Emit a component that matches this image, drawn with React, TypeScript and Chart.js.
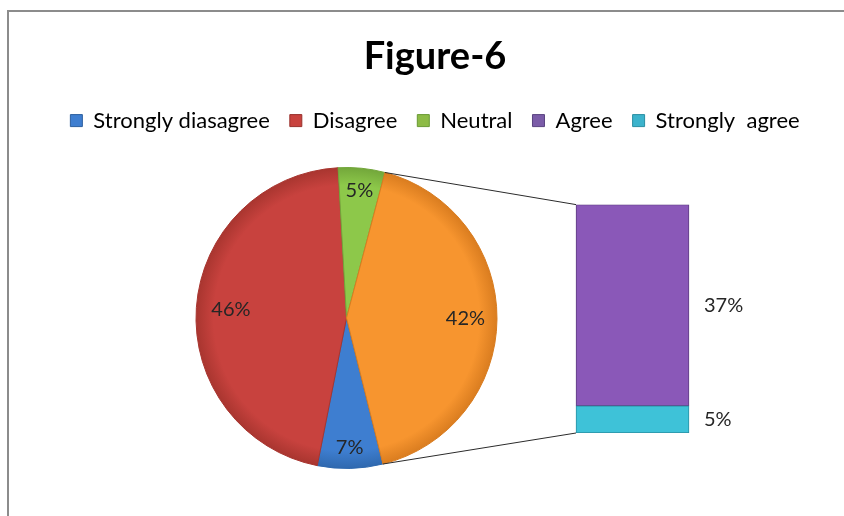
import React, { useEffect, useRef } from 'react';
import { Chart, registerables } from 'chart.js';

Chart.register(...registerables);

// ---- data ----
const TITLE = 'Figure-6';
const PIE_LABELS = ['Strongly diasagree', 'Disagree', 'Neutral', 'Other'];
const PIE_VALUES = [7, 46, 5, 42];
const BAR_LABELS = ['Strongly  agree', 'Agree'];
const BAR_VALUES = [5, 37];
const LEGEND_LABELS = ['Strongly diasagree', 'Disagree', 'Neutral', 'Agree', 'Strongly  agree'];

// ---- styles ----
const PIE_COLORS = ['#3E7ED0', '#C8423E', '#8DC84A', '#F7952F'];
const PIE_DARK = ['#2F68AE', '#A8352F', '#72A63A', '#D97C1F'];
const BAR_COLORS = ['#3EC2D8', '#8A58B8'];
const BAR_BORDER = ['#2A8FA3', '#5E3C80'];
const LEGEND_COLORS = ['#3E7ED0', '#C8423E', '#8DBB46', '#7B5CA8', '#3CB3CC'];
const LEGEND_BORDER = ['#2B5E9E', '#99302C', '#6A9A34', '#5A4380', '#2A8FA3'];
const LABEL_RADIUS = [0.86, 0.77, 0.85, 0.79];
const FONT = 'Lato, "Open Sans", sans-serif';
const W = 844;
const H = 516;

export default function App() {
  const pieRef = useRef<HTMLCanvasElement | null>(null);
  const barRef = useRef<HTMLCanvasElement | null>(null);

  useEffect(() => {
    if (!pieRef.current || !barRef.current) return;

    const framePlugin = {
      id: 'frame',
      beforeDraw(chart: any) {
        const ctx = chart.ctx;
        ctx.save();
        ctx.fillStyle = '#ffffff';
        ctx.fillRect(0, 0, W, H);
        ctx.fillStyle = '#8c8c8c';
        ctx.fillRect(7, 10, W - 7, 2);
        ctx.fillRect(7, 10, 2, H - 10);
        ctx.restore();
      },
    };

    const pieLabelPlugin = {
      id: 'pieLabels',
      afterDatasetsDraw(chart: any) {
        const ctx = chart.ctx;
        const meta = chart.getDatasetMeta(0);
        ctx.save();
        ctx.font = `20px ${FONT}`;
        ctx.fillStyle = '#262626';
        ctx.textAlign = 'center';
        ctx.textBaseline = 'middle';
        meta.data.forEach((arc: any, i: number) => {
          const p = arc.getProps(['x', 'y', 'startAngle', 'endAngle', 'outerRadius'], true);
          const mid = (p.startAngle + p.endAngle) / 2;
          const rr = p.outerRadius * LABEL_RADIUS[i];
          ctx.fillText(`${PIE_VALUES[i]}%`, p.x + rr * Math.cos(mid), p.y + rr * Math.sin(mid));
        });
        ctx.restore();
      },
    };

    const pie = new Chart(pieRef.current, {
      type: 'pie',
      data: {
        labels: PIE_LABELS,
        datasets: [
          {
            data: PIE_VALUES,
            backgroundColor: (c: any) => {
              const i = c.dataIndex ?? 0;
              const a = c.chart.chartArea;
              if (!a) return PIE_COLORS[i];
              const cx = (a.left + a.right) / 2;
              const cy = (a.top + a.bottom) / 2;
              const r = Math.min(a.right - a.left, a.bottom - a.top) / 2;
              const g = c.chart.ctx.createRadialGradient(cx, cy, 0, cx, cy, r);
              g.addColorStop(0, PIE_COLORS[i]);
              g.addColorStop(0.88, PIE_COLORS[i]);
              g.addColorStop(1, PIE_DARK[i]);
              return g;
            },
            borderColor: PIE_DARK,
            borderWidth: 1,
          },
        ],
      },
      options: {
        responsive: false,
        animation: false,
        rotation: 166,
        layout: { padding: { left: 195, right: 346, top: 167, bottom: 47 } },
        plugins: {
          legend: { display: false },
          title: { display: false },
          tooltip: { enabled: false },
        },
      },
      plugins: [framePlugin, pieLabelPlugin],
    });

    const total = BAR_VALUES.reduce((s, v) => s + v, 0);

    const connectorPlugin = {
      id: 'connectors',
      afterDatasetsDraw(chart: any) {
        const ctx = chart.ctx;
        const arc = pie.getDatasetMeta(0).data[PIE_VALUES.length - 1] as any;
        const p = arc.getProps(['x', 'y', 'startAngle', 'endAngle', 'outerRadius'], true);
        const top = chart.getDatasetMeta(BAR_VALUES.length - 1).data[0] as any;
        const bot = chart.getDatasetMeta(0).data[0] as any;
        const tp = top.getProps(['x', 'y', 'base', 'width'], true);
        const bp = bot.getProps(['x', 'y', 'base', 'width'], true);
        const left = tp.x - tp.width / 2;
        ctx.save();
        ctx.strokeStyle = '#2b2b2b';
        ctx.lineWidth = 1;
        ctx.beginPath();
        ctx.moveTo(p.x + p.outerRadius * Math.cos(p.startAngle), p.y + p.outerRadius * Math.sin(p.startAngle));
        ctx.lineTo(left, tp.y);
        ctx.moveTo(p.x + p.outerRadius * Math.cos(p.endAngle), p.y + p.outerRadius * Math.sin(p.endAngle));
        ctx.lineTo(left, bp.base);
        ctx.stroke();
        ctx.restore();
      },
    };

    const barLabelPlugin = {
      id: 'barLabels',
      afterDatasetsDraw(chart: any) {
        const ctx = chart.ctx;
        ctx.save();
        ctx.font = `20px ${FONT}`;
        ctx.fillStyle = '#262626';
        ctx.textAlign = 'left';
        ctx.textBaseline = 'middle';
        BAR_VALUES.forEach((v, i) => {
          const el = chart.getDatasetMeta(i).data[0] as any;
          const p = el.getProps(['x', 'y', 'base', 'width'], true);
          ctx.fillText(`${v}%`, p.x + p.width / 2 + 15, (p.y + p.base) / 2);
        });
        ctx.restore();
      },
    };

    const bar = new Chart(barRef.current, {
      type: 'bar',
      data: {
        labels: ['Other'],
        datasets: BAR_LABELS.map((label, i) => ({
          label,
          data: [BAR_VALUES[i]],
          backgroundColor: BAR_COLORS[i],
          borderColor: BAR_BORDER[i],
          borderWidth: 1,
          borderSkipped: false,
          barThickness: 113,
        })),
      },
      options: {
        responsive: false,
        animation: false,
        layout: { padding: { left: 26, bottom: 83 } },
        plugins: {
          title: {
            display: true,
            text: TITLE,
            color: '#000000',
            font: { family: FONT, size: 38, weight: 'bold' },
            padding: { top: 34, bottom: 10 },
          },
          legend: {
            display: true,
            onClick: () => {},
            labels: {
              color: '#1a1a1a',
              font: { family: FONT, size: 22 },
              boxWidth: 12,
              boxHeight: 12,
              padding: 20,
              generateLabels: () =>
                LEGEND_LABELS.map((text, i) => ({
                  text,
                  fillStyle: LEGEND_COLORS[i],
                  strokeStyle: LEGEND_BORDER[i],
                  lineWidth: 1,
                  hidden: false,
                  datasetIndex: i,
                })),
            },
          },
          tooltip: { enabled: false },
        },
        scales: {
          x: {
            stacked: true,
            position: 'top',
            grid: { display: false },
            border: { display: false },
            ticks: { display: false },
            afterFit: (s: any) => {
              s.height = 63;
            },
          },
          y: {
            stacked: true,
            min: 0,
            max: total,
            grid: { display: false },
            border: { display: false },
            ticks: { display: false },
            afterFit: (s: any) => {
              s.width = 395;
            },
          },
        },
      },
      plugins: [connectorPlugin, barLabelPlugin],
    });

    return () => {
      bar.destroy();
      pie.destroy();
    };
  }, []);

  return (
    <div style={{ position: 'absolute', left: 0, top: 0, width: W, height: H }}>
      <canvas ref={pieRef} width={W} height={H} style={{ position: 'absolute', left: 0, top: 0 }} />
      <canvas ref={barRef} width={W} height={H} style={{ position: 'absolute', left: 0, top: 0 }} />
    </div>
  );
}
